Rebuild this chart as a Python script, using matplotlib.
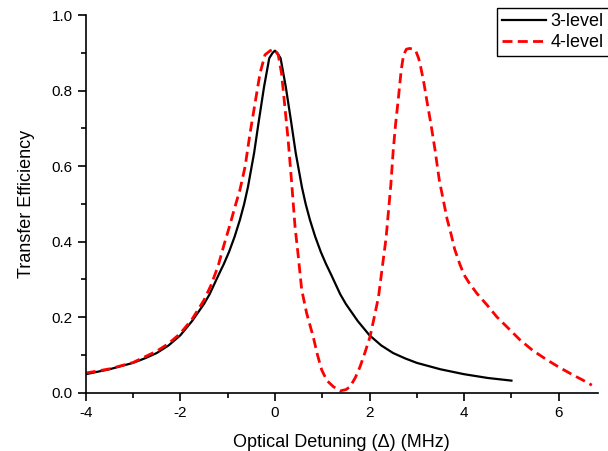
import matplotlib
matplotlib.use("Agg")
import matplotlib.pyplot as plt
from matplotlib.ticker import MultipleLocator

plt.rcParams['font.family'] = ['Liberation Sans', 'DejaVu Sans']

# 3-level curve
x3 = [-4.0, -3.5, -3.0, -2.75, -2.5, -2.25, -2.0, -1.75, -1.5, -1.38, -1.18, -1.08,
      -0.97, -0.85, -0.74, -0.65, -0.57, -0.44, -0.34, -0.23, -0.12, -0.05, 0.0,
      0.05, 0.12, 0.23, 0.34, 0.44, 0.57, 0.65, 0.74, 0.85, 0.97, 1.08, 1.18, 1.38,
      1.5, 1.75, 2.0, 2.25, 2.5, 2.75, 3.0, 3.5, 4.0, 4.5, 5.0]
y3 = [0.049, 0.062, 0.079, 0.091, 0.105, 0.125, 0.152, 0.190, 0.235, 0.261, 0.315, 0.341,
      0.373, 0.414, 0.458, 0.500, 0.545, 0.635, 0.720, 0.810, 0.886, 0.900, 0.906,
      0.900, 0.886, 0.810, 0.720, 0.635, 0.545, 0.500, 0.458, 0.414, 0.373, 0.341, 0.315, 0.261,
      0.235, 0.190, 0.152, 0.125, 0.105, 0.091, 0.079, 0.062, 0.049, 0.039, 0.032]

# 4-level curve
x4 = [-4.0, -3.5, -3.0, -2.5, -2.25, -2.0, -1.75, -1.5, -1.35, -1.2, -1.08, -0.95,
      -0.85, -0.74, -0.63, -0.526, -0.42, -0.315, -0.21, -0.10, -0.02, 0.07, 0.14,
      0.21, 0.28, 0.355, 0.425, 0.495, 0.567, 0.672, 0.81, 0.9, 0.99, 1.1, 1.235,
      1.38, 1.5, 1.59, 1.7, 1.8, 1.9, 2.01, 2.1, 2.19, 2.29, 2.35, 2.40, 2.45, 2.50,
      2.55, 2.61, 2.67, 2.72, 2.78, 2.85, 2.92, 2.98, 3.04, 3.08, 3.15, 3.21, 3.3,
      3.385, 3.475, 3.56, 3.64, 3.72, 3.8, 3.91, 4.0, 4.1, 4.27, 4.5, 4.69, 4.9,
      5.18, 5.45, 5.75, 6.0, 6.3, 6.5, 6.7]
y4 = [0.052, 0.063, 0.080, 0.110, 0.130, 0.157, 0.195, 0.245, 0.285, 0.336, 0.390, 0.445,
      0.490, 0.537, 0.599, 0.687, 0.767, 0.846, 0.895, 0.906, 0.910, 0.895, 0.846,
      0.758, 0.669, 0.555, 0.440, 0.360, 0.272, 0.210, 0.148, 0.100, 0.060, 0.032, 0.016,
      0.005, 0.008, 0.016, 0.040, 0.069, 0.105, 0.148, 0.200, 0.254, 0.352, 0.410, 0.480, 0.550, 0.640,
      0.710, 0.780, 0.855, 0.895, 0.910, 0.912, 0.910, 0.905, 0.885, 0.864, 0.820, 0.775, 0.710,
      0.643, 0.563, 0.510, 0.460, 0.422, 0.380, 0.340, 0.312, 0.292, 0.263, 0.230, 0.201, 0.175,
      0.140, 0.112, 0.087, 0.068, 0.047, 0.034, 0.020]

xticks = [-4, -2, 0, 2, 4, 6]
yticks = [0.0, 0.2, 0.4, 0.6, 0.8, 1.0]

fig = plt.figure(figsize=(6.08, 4.51), dpi=100)
ax = fig.add_axes([85.7/608, 1 - 392.7/451, (598 - 85.7)/608, (392.7 - 15.2)/451])

ax.plot(x3, y3, color='black', lw=1.6, label='3-level')
ax.plot(x4, y4, color='red', lw=2.0, linestyle=(0, (3.6, 1.9)), label='4-level')

ax.set_xlim(-4, 6.83)
ax.set_ylim(0, 1.0)
ax.set_xticks(xticks)
ax.set_xticklabels([f"{v:d}" for v in xticks])
ax.set_yticks(yticks)
ax.set_yticklabels([f"{v:.1f}" for v in yticks])
ax.xaxis.set_minor_locator(MultipleLocator(1))
ax.yaxis.set_minor_locator(MultipleLocator(0.1))

for s in ['top', 'right']:
    ax.spines[s].set_visible(False)
for s in ['left', 'bottom']:
    ax.spines[s].set_linewidth(1.2)

ax.tick_params(which='major', direction='out', length=6, width=1.2, labelsize=11)
ax.tick_params(which='minor', direction='out', length=3.5, width=1.2)

ax.set_xlabel('Optical Detuning (\u0394) (MHz)', fontsize=13, labelpad=10)
ax.set_ylabel('Transfer Efficiency', fontsize=13, labelpad=12)

leg = ax.legend(loc='upper left', bbox_to_anchor=(497/608, 1 - 8/451),
                bbox_transform=fig.transFigure, borderaxespad=0,
                fontsize=13, frameon=True, fancybox=False, framealpha=1,
                edgecolor='black', handlelength=2.4, handletextpad=0.25,
                borderpad=0.3, labelspacing=0.2)
leg.get_frame().set_linewidth(1.0)

fig.savefig('out.png', dpi=100)
